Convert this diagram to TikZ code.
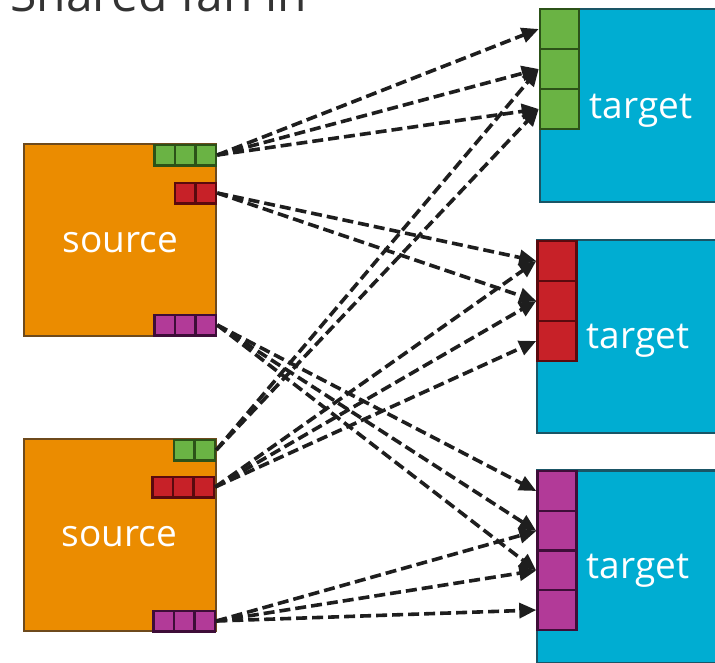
\documentclass[tikz,border=0pt]{standalone}
\usepackage{fontspec}
\setmainfont{Open Sans}
\usetikzlibrary{arrows.meta}

\definecolor{srcfill}{HTML}{EB8C00}
\definecolor{srcline}{HTML}{6E4A1C}
\definecolor{tgtfill}{HTML}{00ADD2}
\definecolor{tgtline}{HTML}{1A5566}
\definecolor{grnfill}{HTML}{6AB344}
\definecolor{grnline}{HTML}{2C5218}
\definecolor{redfill}{HTML}{C72128}
\definecolor{redline}{HTML}{5A0A0E}
\definecolor{purfill}{HTML}{B23A98}
\definecolor{purline}{HTML}{3E0D38}
\definecolor{wirecol}{HTML}{1E1E1E}
\definecolor{titlegray}{HTML}{333333}

\begin{document}
\begin{tikzpicture}[x=1pt,y=-1pt,
  box/.style={draw, line width=2.5pt, minimum width=192pt, minimum height=192pt, inner sep=0pt},
  srcbox/.style={box, fill=srcfill, draw=srcline},
  tgtbox/.style={box, fill=tgtfill, draw=tgtline, minimum height=193pt},
  lbl/.style={text=white, font=\fontsize{37}{40}\selectfont, anchor=base, inner sep=0pt},
  sport/.style={draw, line width=2.5pt, minimum size=20.5pt, inner sep=0pt},
  tport/.style={draw, line width=2.5pt, minimum width=39pt, minimum height=40pt, inner sep=0pt},
  grn/.style={fill=grnfill, draw=grnline},
  rd/.style={fill=redfill, draw=redline},
  pur/.style={fill=purfill, draw=purline},
  link/.style={draw=wirecol, line width=3.6pt, dash pattern=on 11pt off 5pt,
    -{Triangle[length=17pt,width=15pt,fill=wirecol]}}
]
\useasboundingbox (0,0) rectangle (715,662);
\clip (0,0) rectangle (715,662);

% title
\node[anchor=base west, text=titlegray, font=\fontsize{48}{56}\selectfont, inner sep=0pt]
  (title) at (10,11) {Shared fan in};

% sources
\node[srcbox] (s1) at (120,240) {};
\node[srcbox] (s2) at (120,535) {};
\node[lbl] (s1lbl) at (120.5,252) {source};
\node[lbl] (s2lbl) at (119.5,546) {source};

% targets
\node[tgtbox] (t1) at (636,105.5) {};
\node[tgtbox] (t2) at (633,336.5) {};
\node[tgtbox] (t3) at (633,567) {};
\node[lbl] (t1lbl) at (641,118) {target};
\node[lbl] (t2lbl) at (638,348) {target};
\node[lbl] (t3lbl) at (638,578) {target};

% source ports, numbered left to right
\foreach \i/\x in {1/164.75,2/185.25,3/205.75} {
  \node[sport,grn] (s1g\i) at (\x,155) {};
  \node[sport,pur] (s1p\i) at (\x,325) {};
  \node[sport,rd]  (s2r\i) at (\x-2,487) {};
  \node[sport,pur] (s2p\i) at (\x-1,621) {};
}
\foreach \i/\x in {1/185.25,2/205.75} {
  \node[sport,rd]  (s1r\i) at (\x,193) {};
  \node[sport,grn] (s2g\i) at (\x-1,450) {};
}

% target ports, numbered top to bottom
\foreach \i/\y in {1/29,2/69,3/109}
  \node[tport,grn] (t1c\i) at (559.5,\y) {};
\foreach \i/\y in {1/261,2/301,3/341}
  \node[tport,rd] (t2c\i) at (557,\y) {};
\foreach \i/\y in {1/491,2/531,3/570.5,4/610}
  \node[tport,pur] (t3c\i) at (557,\y) {};

% connections
\foreach \c in {1,2,3} \draw[link] (s1g3.east) -- (t1c\c.west);
\foreach \c in {2,3}   \draw[link] (s2g2.east) -- (t1c\c.west);
\foreach \c in {1,2}   \draw[link] (s1r2.east) -- (t2c\c.west);
\foreach \c in {1,2,3} \draw[link] (s2r3.east) -- (t2c\c.west);
\foreach \c in {1,2,3} \draw[link] (s1p3.east) -- (t3c\c.west);
\foreach \c in {2,3,4} \draw[link] (s2p3.east) -- (t3c\c.west);
\end{tikzpicture}
\end{document}
